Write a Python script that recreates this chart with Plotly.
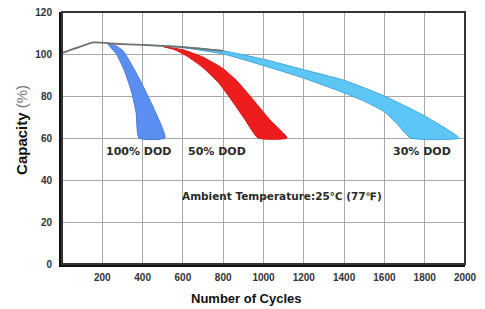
import plotly.graph_objects as go

# ---- data ----
x_ticks = [200, 400, 600, 800, 1000, 1200, 1400, 1600, 1800, 2000]
y_ticks = [0, 20, 40, 60, 80, 100, 120]

# initial common capacity curve
base_cycles = [0, 80, 160, 240, 400, 600, 800]
base_capacity = [100.5, 103.2, 105.5, 105.0, 104.3, 103.3, 101.5]

# 100% DOD band
dod100_upper_cycles = [228, 265, 303, 345, 387, 452, 511]
dod100_upper_capacity = [104.8, 104.0, 101.5, 95.0, 87.6, 74.8, 60]
dod100_lower_cycles = [228, 270, 310, 345, 368, 382]
dod100_lower_capacity = [104.8, 100.0, 92.0, 82.0, 72.0, 60]

# 50% DOD band
dod50_upper_cycles = [500, 600, 700, 800, 870, 933, 1032, 1117]
dod50_upper_capacity = [103.6, 102.0, 98.5, 93.0, 87.0, 80.0, 68.6, 60]
dod50_lower_cycles = [500, 560, 620, 700, 780, 849, 910, 973]
dod50_lower_capacity = [103.6, 102.0, 99.0, 93.5, 86.0, 77.0, 68.5, 60]

# 30% DOD band
dod30_upper_cycles = [400, 600, 800, 1000, 1200, 1400, 1600, 1800, 1970]
dod30_upper_capacity = [104.4, 103.4, 101.5, 97.5, 92.5, 87.5, 80.0, 70.5, 60]
dod30_lower_cycles = [400, 600, 800, 1000, 1200, 1400, 1500, 1600, 1660, 1730]
dod30_lower_capacity = [104.4, 103.0, 100.0, 94.5, 88.5, 81.5, 77.5, 72.5, 67.0, 60]

labels = ["100% DOD", "50% DOD", "30% DOD"]
label_cycles = [382, 769, 1787]
label_capacity = [53.8, 53.8, 53.8]
note_text = "Ambient Temperature:25℃ (77℉)"
note_cycles = 1092
note_capacity = 32.4

FONT = "Liberation Sans, Arial, sans-serif"
WIDE = "DejaVu Sans, Verdana, sans-serif"

fig = go.Figure()


def band(ux, uy, lx, ly, fill, edge):
    xs = list(ux) + list(reversed(lx))
    ys = list(uy) + list(reversed(ly))
    fig.add_trace(go.Scatter(
        x=xs, y=ys, mode="lines", fill="toself", fillcolor=fill,
        line=dict(color=edge, width=1, shape="spline", smoothing=0.5),
        hoverinfo="skip", showlegend=False))


band(dod30_upper_cycles, dod30_upper_capacity, dod30_lower_cycles, dod30_lower_capacity,
     "#5cc6f7", "#46a6d6")
band(dod50_upper_cycles, dod50_upper_capacity, dod50_lower_cycles, dod50_lower_capacity,
     "#ee1d1d", "#d81515")
band(dod100_upper_cycles, dod100_upper_capacity, dod100_lower_cycles, dod100_lower_capacity,
     "#5a8ef0", "#4a7ad8")

fig.add_trace(go.Scatter(
    x=base_cycles, y=base_capacity, mode="lines",
    line=dict(color="#707070", width=1.8, shape="spline", smoothing=0.8),
    hoverinfo="skip", showlegend=False))

for t, cx, cy in zip(labels, label_cycles, label_capacity):
    fig.add_annotation(x=cx, y=cy, text=t, showarrow=False,
                       font=dict(family=WIDE, size=11, color="#2a2a2a", weight="bold"))

fig.add_annotation(x=note_cycles, y=note_capacity, text=note_text, showarrow=False,
                   font=dict(family=WIDE, size=10.5, color="#2a2a2a", weight="bold"))

# axis titles as annotations for precise placement
fig.add_annotation(xref="paper", yref="paper", x=0.4566, y=-0.135, text="Number of Cycles",
                   showarrow=False, yanchor="middle", xanchor="center",
                   font=dict(family=FONT, size=13, color="#111111", weight="bold"))
fig.add_annotation(xref="paper", yref="paper", x=-0.0993, y=0.532,
                   text="<b>Capacity</b> <span style='color:#777777'>(%)</span>",
                   showarrow=False, textangle=-90, xanchor="center", yanchor="middle",
                   font=dict(family=FONT, size=15, color="#111111"))

# top/right thinner border
fig.add_shape(type="rect", xref="paper", yref="paper", x0=0, y0=0, x1=1, y1=1,
              line=dict(color="#333333", width=2), layer="above")

fig.update_xaxes(range=[0, 2000], tickvals=x_ticks, ticktext=[str(v) for v in x_ticks],
                 showgrid=True, gridcolor="#a8a8a8", gridwidth=1,
                 showline=True, linecolor="#111111", linewidth=3,
                 zeroline=False, ticks="", ticklabelstandoff=2,
                 ticklabeloverflow="allow", automargin=False,
                 tickfont=dict(family=FONT, size=10, color="#333333", weight="bold"))
fig.update_yaxes(range=[0, 120], tickvals=y_ticks, ticktext=[str(v) for v in y_ticks],
                 showgrid=True, gridcolor="#a8a8a8", gridwidth=1,
                 showline=True, linecolor="#111111", linewidth=3,
                 zeroline=False, ticks="", ticklabelstandoff=5,
                 ticklabeloverflow="allow", automargin=False,
                 tickfont=dict(family=FONT, size=10, color="#333333", weight="bold"))

# the page body adds an 8px offset, so the figure is 8px smaller on each side
fig.update_layout(width=477, height=301, margin=dict(l=54, r=20, t=4, b=45),
                  paper_bgcolor="white", plot_bgcolor="white", showlegend=False)

fig.write_html("out.html")
